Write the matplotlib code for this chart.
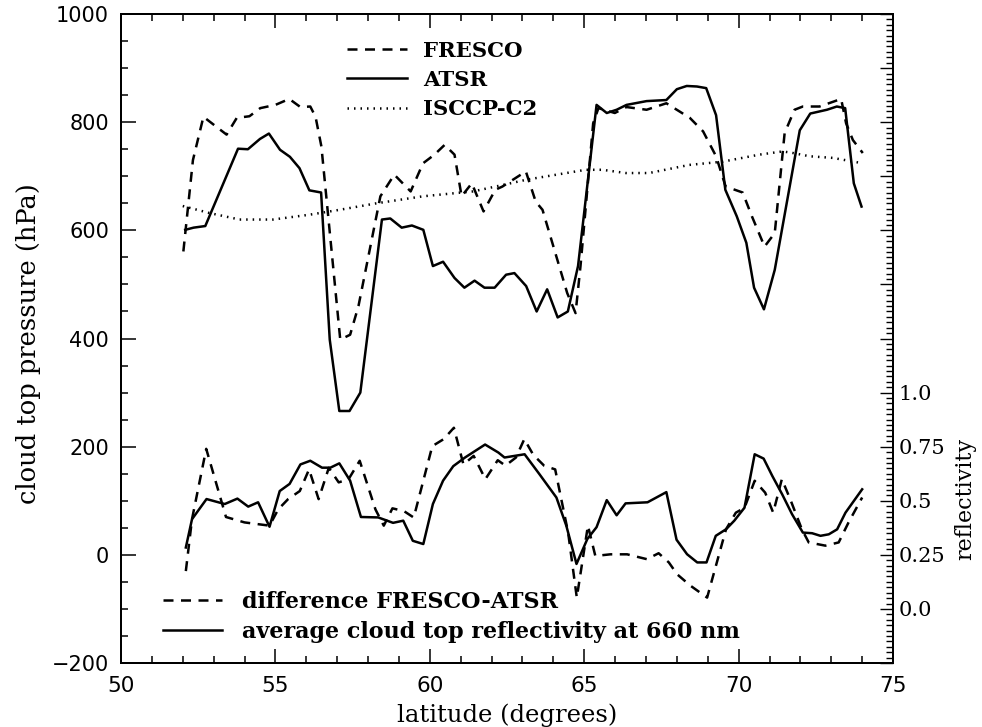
import numpy as np
import matplotlib
matplotlib.use('Agg')
import matplotlib.pyplot as plt
from matplotlib.ticker import MultipleLocator, FuncFormatter

# cloud top pressure (hPa)
fresco_lat = [52.02, 52.33, 52.67, 53.42, 53.75, 54.16, 54.51, 55.00, 55.45, 55.81,
              56.13, 56.30, 56.49, 57.10, 57.42, 57.69, 58.40, 58.85, 59.38, 59.78,
              60.15, 60.48, 60.80, 61.03, 61.36, 61.74, 62.12, 62.35, 63.11, 63.43,
              63.65, 64.45, 64.72, 64.88, 65.29, 65.46, 65.99, 66.37, 67.02, 67.66,
              68.42, 68.85, 69.27, 69.58, 70.13, 70.43, 70.84, 71.17, 71.49, 71.81,
              72.08, 72.62, 73.32, 73.48, 73.70, 74.02]
fresco_p = [561, 730, 810, 777, 808, 811, 826, 832, 843, 828,
            829, 810, 755, 398, 407, 460, 663, 703, 672, 724,
            740, 758, 740, 663, 687, 635, 675, 681, 709, 653,
            638, 484, 447, 534, 798, 826, 817, 828, 823, 835,
            808, 783, 737, 681, 670, 626, 570, 595, 780, 823,
            829, 829, 843, 798, 767, 743]

atsr_lat = [52.08, 52.35, 52.73, 53.79, 54.11, 54.50, 54.79, 55.15, 55.47, 55.78,
            56.10, 56.48, 56.76, 57.07, 57.40, 57.75, 58.45, 58.72, 59.09, 59.42,
            59.79, 60.10, 60.43, 60.80, 61.12, 61.45, 61.77, 62.10, 62.47, 62.74,
            63.12, 63.46, 63.80, 64.14, 64.47, 64.80, 65.40, 65.73, 66.05, 66.37,
            67.02, 67.66, 68.00, 68.32, 68.65, 68.95, 69.27, 69.57, 69.94, 70.25,
            70.50, 70.82, 71.17, 71.98, 72.32, 72.86, 73.18, 73.45, 73.73, 73.98]
atsr_p = [601, 605, 608, 751, 750, 769, 779, 749, 736, 715,
          674, 670, 398, 266, 266, 300, 620, 622, 605, 609,
          601, 534, 542, 512, 494, 507, 494, 494, 518, 521,
          497, 450, 491, 439, 450, 534, 832, 817, 823, 832,
          839, 841, 861, 867, 866, 863, 813, 675, 626, 577,
          494, 454, 527, 785, 816, 823, 829, 826, 687, 644]

isccp_lat = [52.0, 52.87, 53.84, 54.92, 56.11, 57.08, 58.27, 59.78, 61.40, 62.37,
             63.16, 65.05, 65.59, 66.35, 67.10, 68.40, 69.48, 70.67, 71.43, 71.76,
             72.30, 73.05, 74.02]
isccp_p = [645, 632, 620, 620, 629, 638, 650, 663, 672, 684,
           694, 712, 712, 706, 706, 721, 727, 740, 746, 743,
           737, 734, 724]

# difference FRESCO-ATSR (hPa)
diff_lat = [52.10, 52.30, 52.76, 53.40, 54.00, 54.81, 55.09, 55.41, 55.79, 56.09,
            56.40, 56.73, 57.05, 57.37, 57.73, 58.24, 58.51, 58.79, 59.16, 59.48,
            60.08, 60.45, 60.78, 61.09, 61.42, 61.80, 62.20, 62.45, 62.79, 63.06,
            63.35, 63.70, 64.06, 64.48, 64.76, 65.12, 65.36, 65.85, 66.39, 67.03,
            67.41, 67.74, 68.01, 68.44, 68.98, 69.59, 69.91, 70.19, 70.52, 70.86,
            71.12, 71.40, 71.67, 72.05, 72.27, 72.81, 73.24, 73.56, 74.00]
diff_p = [-30, 66, 196, 70, 60, 54, 84, 103, 118, 158,
          103, 161, 134, 140, 174, 84, 54, 86, 81, 69,
          201, 214, 235, 167, 183, 140, 175, 165, 180, 214,
          185, 165, 158, 41, -79, 54, -2, 1, 1, -8,
          3, -14, -36, -57, -79, 47, 78, 87, 137, 115,
          78, 140, 103, 47, 23, 17, 23, 60, 106]

# average cloud top reflectivity at 660 nm
refl_lat = [52.10, 52.30, 52.77, 53.36, 53.77, 54.12, 54.44, 54.81, 55.14, 55.46,
            55.81, 56.13, 56.51, 56.78, 57.07, 57.42, 57.77, 58.33, 58.81, 59.14,
            59.45, 59.79, 60.10, 60.43, 60.76, 61.14, 61.79, 62.22, 62.42, 63.07,
            63.55, 64.10, 64.42, 64.75, 65.10, 65.40, 65.73, 66.05, 66.34, 67.05,
            67.66, 67.99, 68.33, 68.66, 68.96, 69.26, 69.59, 69.86, 70.19, 70.52,
            70.81, 71.09, 71.41, 71.73, 72.08, 72.38, 72.65, 72.92, 73.19, 73.46,
            74.00]
refl = [0.284, 0.415, 0.508, 0.485, 0.510, 0.473, 0.493, 0.380, 0.545, 0.578,
        0.668, 0.685, 0.653, 0.653, 0.673, 0.593, 0.425, 0.423, 0.398, 0.408,
        0.315, 0.300, 0.485, 0.593, 0.660, 0.700, 0.760, 0.723, 0.700, 0.715,
        0.623, 0.515, 0.385, 0.208, 0.323, 0.378, 0.503, 0.433, 0.488, 0.493,
        0.540, 0.320, 0.253, 0.215, 0.215, 0.338, 0.368, 0.408, 0.468, 0.715,
        0.695, 0.615, 0.530, 0.438, 0.353, 0.350, 0.338, 0.345, 0.368, 0.445,
        0.553]

refl_labels = {0.0: '0.0', 0.25: '0.25', 0.5: '0.5', 0.75: '0.75', 1.0: '1.0'}

lw = 1.8
dash = (0, (4, 3))
dot = (0, (0.6, 2.0))

fig = plt.figure(figsize=(9.82, 7.27), dpi=100)
ax = fig.add_axes([0.1232, 0.088, 0.7862, 0.8927])
ax2 = ax.twinx()

l1, = ax.plot(fresco_lat, fresco_p, color='black', lw=lw, ls=dash, label='FRESCO')
l2, = ax.plot(atsr_lat, atsr_p, color='black', lw=lw, label='ATSR')
l3, = ax.plot(isccp_lat, isccp_p, color='black', lw=lw, ls=dot, label='ISCCP-C2')
l4, = ax.plot(diff_lat, diff_p, color='black', lw=lw, ls=dash, label='difference FRESCO-ATSR')
l5, = ax2.plot(refl_lat, refl, color='black', lw=lw,
               label='average cloud top reflectivity at 660 nm')

ax.set_xlim(50, 75)
ax.set_ylim(-200, 1000)
ax2.set_ylim(-0.25, 2.75)

ax.xaxis.set_major_locator(MultipleLocator(5))
ax.xaxis.set_minor_locator(MultipleLocator(1))
ax.yaxis.set_major_locator(MultipleLocator(200))
ax.yaxis.set_minor_locator(MultipleLocator(50))
ax.yaxis.set_major_formatter(FuncFormatter(
    lambda v, pos: ('%d' % v).replace('-', '\u2212')))
ax2.yaxis.set_major_locator(MultipleLocator(0.25))
ax2.yaxis.set_minor_locator(MultipleLocator(0.025))
ax2.yaxis.set_major_formatter(FuncFormatter(
    lambda v, pos: refl_labels.get(round(v, 2), '')))

ax.tick_params(axis='both', which='both', direction='in', color='black')
ax.tick_params(axis='x', which='both', top=True, bottom=True)
ax.tick_params(axis='x', which='major', length=10, width=1.1, pad=9,
               labelsize=15.5)
ax.tick_params(axis='x', which='minor', length=5, width=1.1)
ax.tick_params(axis='y', which='major', length=10.5, width=1.1, pad=8.5,
               labelsize=15, right=False)
ax.tick_params(axis='y', which='minor', length=5.2, width=1.1, right=False)
ax2.tick_params(axis='y', which='both', direction='in')
ax2.tick_params(axis='y', which='major', length=9.5, width=1.0, pad=4,
                labelsize=15)
ax2.tick_params(axis='y', which='minor', length=5, width=1.0)
for lab in ax2.get_yticklabels():
    lab.set_family('DejaVu Serif')

for a in (ax, ax2):
    for s in a.spines.values():
        s.set_linewidth(1.4)

ax.set_xlabel('latitude (degrees)', family='DejaVu Serif', fontsize=17.5,
              labelpad=6)
ax.set_ylabel('cloud top pressure (hPa)', family='DejaVu Serif', fontsize=18.5)
ax.yaxis.set_label_coords(-0.104, 0.4915)
ax2.set_ylabel('reflectivity', family='DejaVu Serif', fontsize=16)
ax2.yaxis.set_label_coords(1.079, 0.2527)

leg_font = {'family': 'DejaVu Serif', 'weight': 'bold', 'size': 15.3}
leg1 = ax2.legend(handles=[l1, l2, l3], loc='upper left',
                  bbox_to_anchor=(0.293, 0.9588), frameon=False, prop=leg_font,
                  handlelength=2.8, handletextpad=0.75, labelspacing=0.43,
                  borderpad=0, borderaxespad=0)
ax2.add_artist(leg1)
leg_font2 = {'family': 'DejaVu Serif', 'weight': 'bold', 'size': 16}
ax2.legend(handles=[l4, l5], loc='lower left', bbox_to_anchor=(0.054, 0.0316),
           frameon=False, prop=leg_font2, handlelength=2.65,
           handletextpad=0.9, labelspacing=0.33, borderpad=0, borderaxespad=0)

fig.savefig('out.png', dpi=100)
